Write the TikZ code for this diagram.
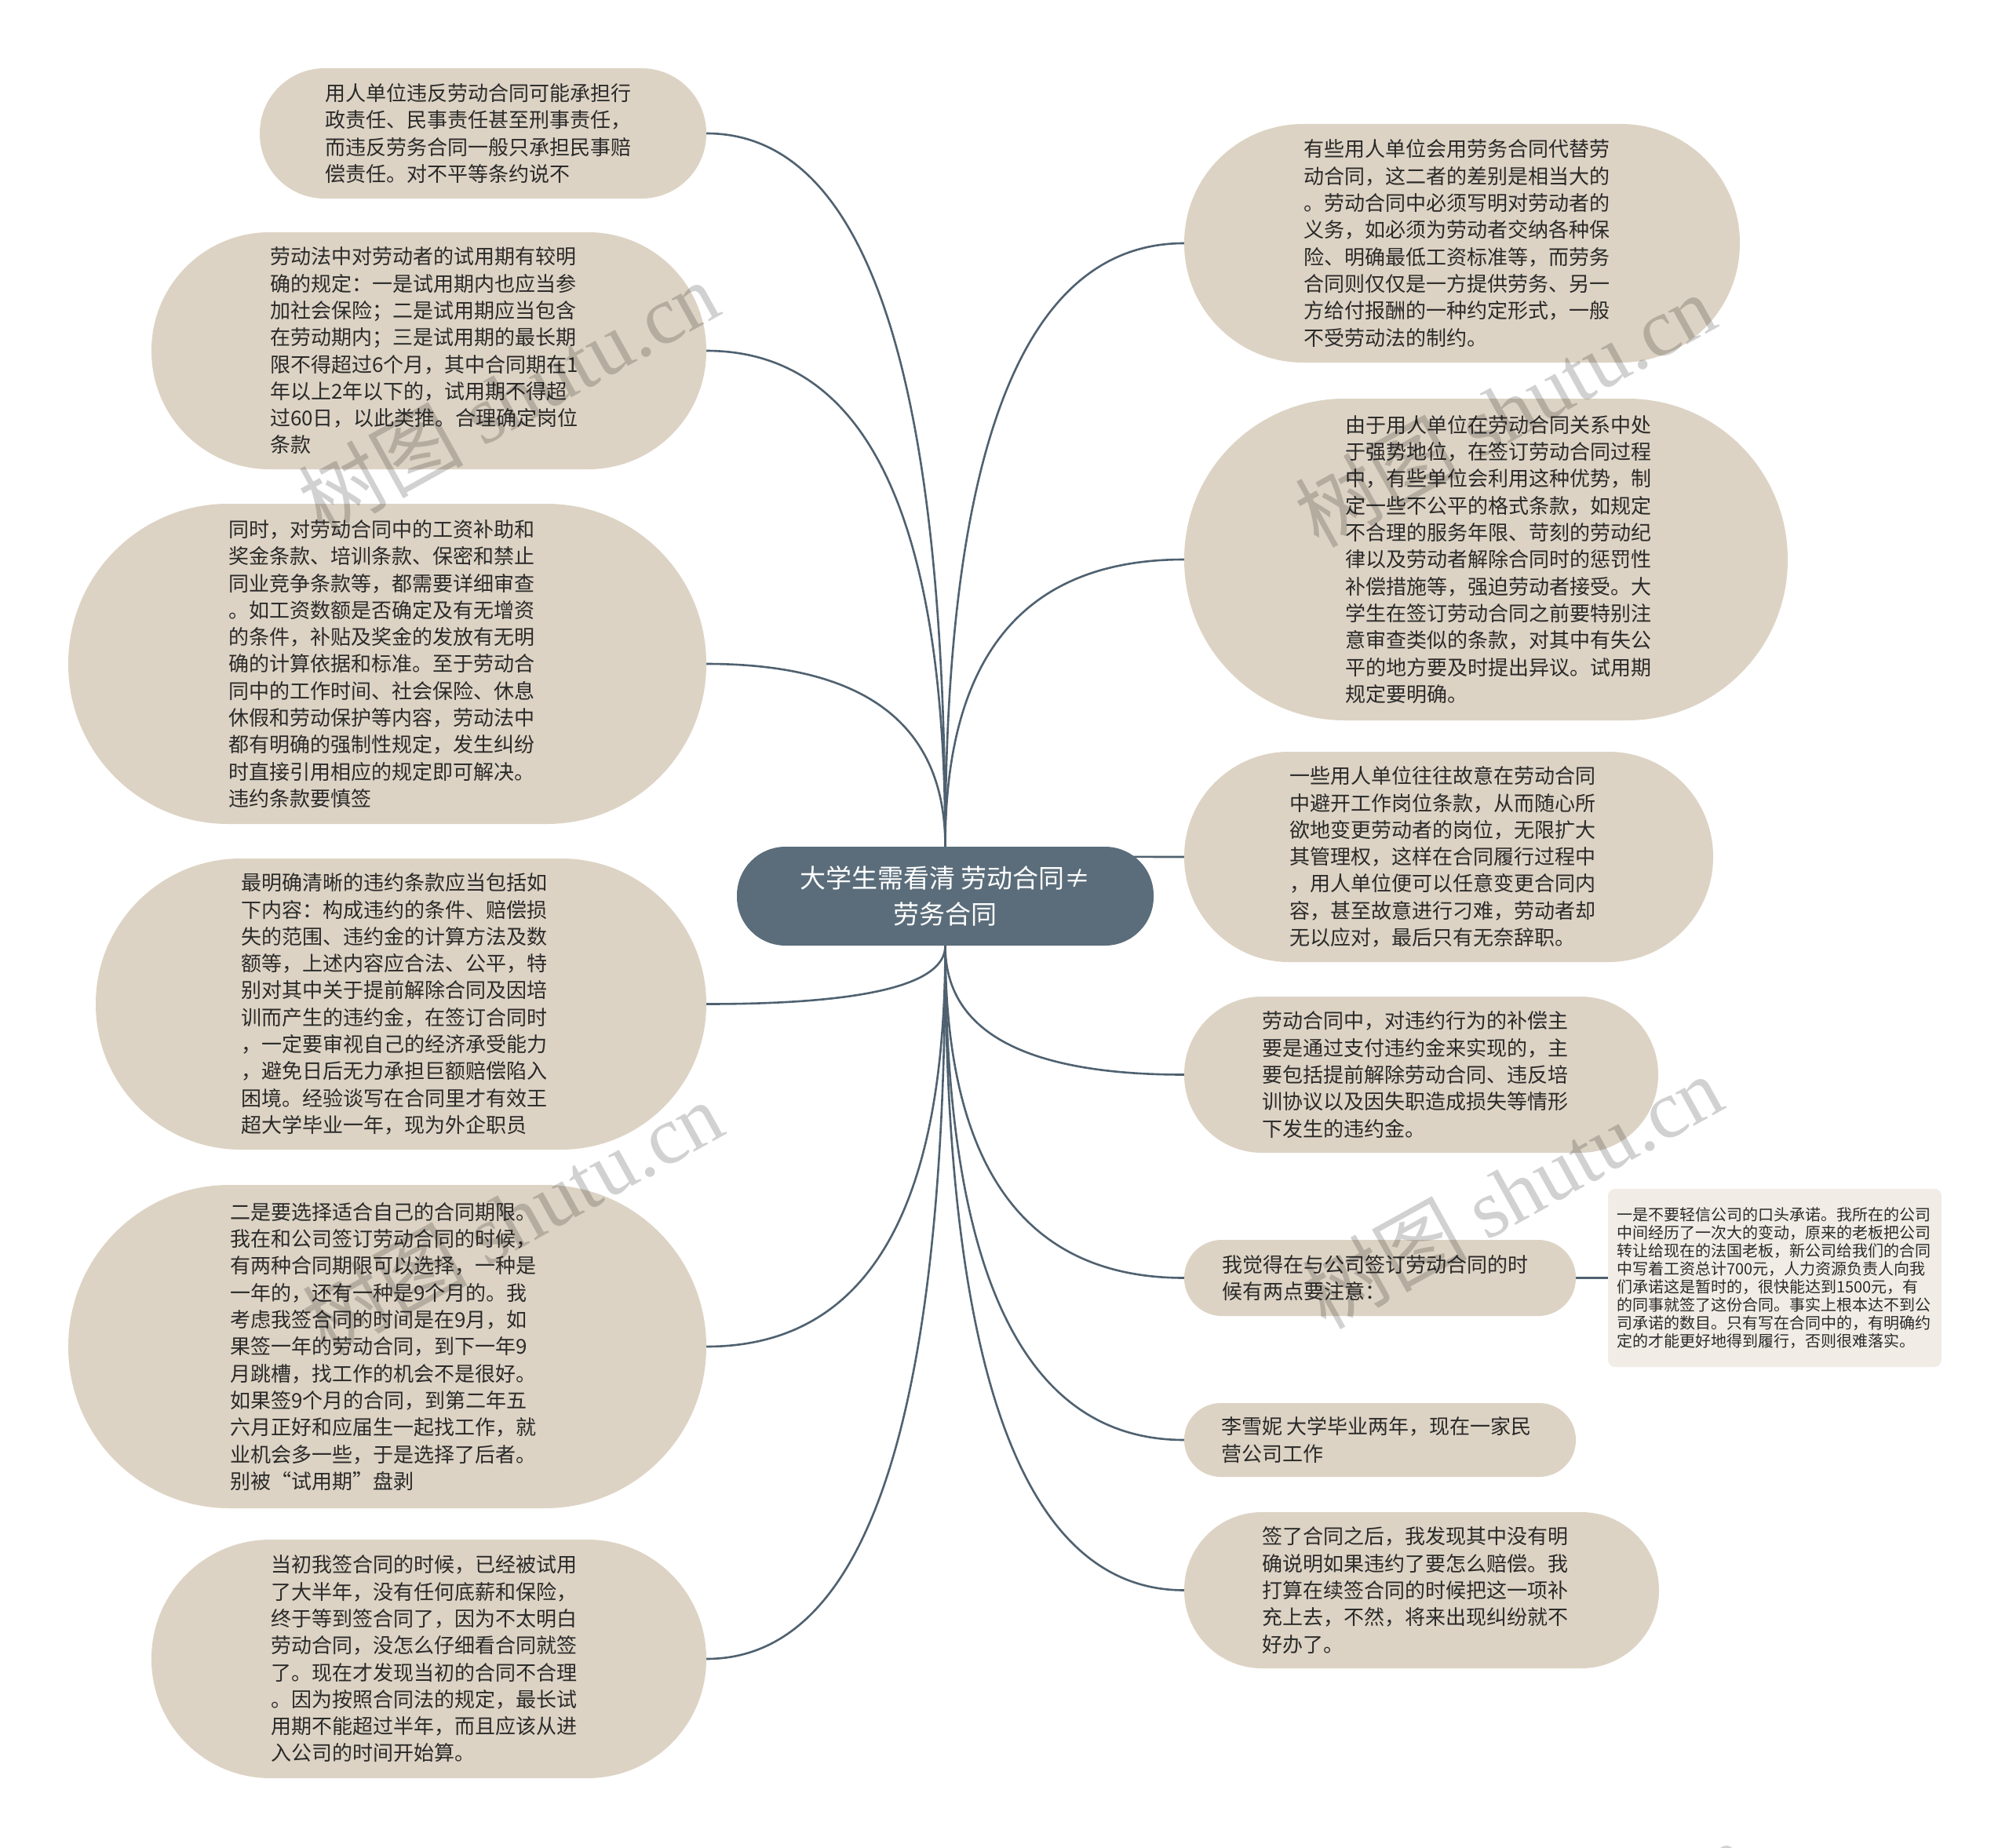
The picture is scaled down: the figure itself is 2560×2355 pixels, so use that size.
\documentclass[tikz,border=0pt]{standalone}
\usepackage{fontspec}
\setmainfont{Noto Sans CJK SC}
\newfontfamily\wmlatin{Liberation Serif}
\usetikzlibrary{calc,backgrounds}
\definecolor{leaffill}{HTML}{DDD3C4}
\definecolor{rootfill}{HTML}{5B6D7A}
\definecolor{linecol}{HTML}{4F6170}
\definecolor{txtcol}{HTML}{2A2A2A}
\definecolor{notefill}{HTML}{F1EDE6}
\tikzset{
  leafbox/.style={rectangle, fill=leaffill, inner sep=0pt, draw=none},
  leaftext/.style={inner sep=0pt, align=left, text=txtcol, font=\fontsize{26}{34.3}\selectfont, anchor=west},
  rootbox/.style={rectangle, fill=rootfill, rounded corners=62pt, minimum width=531pt, minimum height=126pt, inner sep=0pt, text=white, align=center, font=\fontsize{33}{46}\selectfont},
  notebox/.style={rectangle, fill=notefill, rounded corners=9pt, minimum width=425pt, minimum height=227pt, inner sep=0pt},
  notetext/.style={inner sep=0pt, align=left, text=txtcol, font=\fontsize{20}{22.9}\selectfont, anchor=west},
  connline/.style={draw=linecol, line width=2.6pt},
  wmark/.style={text=black, text opacity=0.18, font=\fontsize{105}{105}\selectfont, rotate=29, inner sep=0pt},
}
\newcommand\mmleaf[6]{%
  \pgfmathsetmacro\mmw{#4-#2}%
  \pgfmathsetmacro\mmh{#5-#3}%
  \pgfmathsetmacro\mmr{\mmh/2-0.5}%
  \pgfmathsetmacro\mmp{\mmh/2}%
  \node[leafbox, minimum width=\mmw pt, minimum height=\mmh pt, rounded corners=\mmr pt] (#1) at ({(#2+#4)/2},{(#3+#5)/2}) {};
  \node[leaftext] (#1t) at ([xshift=\mmp pt]#1.west) {#6};
}
\newcommand\mmconn[2]{\draw[connline] (#1) .. controls ($(#1)!0.667!(#1 |- #2)$) and ($(#2)!0.667!(#1 |- #2)$) .. (#2);}
\begin{document}
\begin{tikzpicture}[x=1pt,y=-1pt]
\useasboundingbox (0,0) rectangle (2560,2355);

\node[rootbox] (c) at (1204.5,1142) {大学生需看清 劳动合同≠\\劳务合同};

\mmleaf{l1}{331}{87}{900}{253}{用人单位违反劳动合同可能承担行\\政责任、民事责任甚至刑事责任，\\而违反劳务合同一般只承担民事赔\\偿责任。对不平等条约说不}
\mmleaf{l2}{193}{296}{900}{598}{劳动法中对劳动者的试用期有较明\\确的规定：一是试用期内也应当参\\加社会保险；二是试用期应当包含\\在劳动期内；三是试用期的最长期\\限不得超过6个月，其中合同期在1\\年以上2年以下的，试用期不得超\\过60日，以此类推。合理确定岗位\\条款}
\mmleaf{l3}{87}{642}{900}{1050}{同时，对劳动合同中的工资补助和\\奖金条款、培训条款、保密和禁止\\同业竞争条款等，都需要详细审查\\。如工资数额是否确定及有无增资\\的条件，补贴及奖金的发放有无明\\确的计算依据和标准。至于劳动合\\同中的工作时间、社会保险、休息\\休假和劳动保护等内容，劳动法中\\都有明确的强制性规定，发生纠纷\\时直接引用相应的规定即可解决。\\违约条款要慎签}
\mmleaf{l4}{122}{1094}{900}{1465}{最明确清晰的违约条款应当包括如\\下内容：构成违约的条件、赔偿损\\失的范围、违约金的计算方法及数\\额等，上述内容应合法、公平，特\\别对其中关于提前解除合同及因培\\训而产生的违约金，在签订合同时\\，一定要审视自己的经济承受能力\\，避免日后无力承担巨额赔偿陷入\\困境。经验谈写在合同里才有效王\\超大学毕业一年，现为外企职员}
\mmleaf{l5}{87}{1510}{900}{1922}{二是要选择适合自己的合同期限。\\我在和公司签订劳动合同的时候，\\有两种合同期限可以选择，一种是\\一年的，还有一种是9个月的。我\\考虑我签合同的时间是在9月，如\\果签一年的劳动合同，到下一年9\\月跳槽，找工作的机会不是很好。\\如果签9个月的合同，到第二年五\\六月正好和应届生一起找工作，就\\业机会多一些，于是选择了后者。\\别被“试用期”盘剥}
\mmleaf{l6}{193}{1962}{900}{2266}{当初我签合同的时候，已经被试用\\了大半年，没有任何底薪和保险，\\终于等到签合同了，因为不太明白\\劳动合同，没怎么仔细看合同就签\\了。现在才发现当初的合同不合理\\。因为按照合同法的规定，最长试\\用期不能超过半年，而且应该从进\\入公司的时间开始算。}

\mmleaf{r1}{1509}{158}{2217}{462}{有些用人单位会用劳务合同代替劳\\动合同，这二者的差别是相当大的\\。劳动合同中必须写明对劳动者的\\义务，如必须为劳动者交纳各种保\\险、明确最低工资标准等，而劳务\\合同则仅仅是一方提供劳务、另一\\方给付报酬的一种约定形式，一般\\不受劳动法的制约。}
\mmleaf{r2}{1509}{508}{2278}{918}{由于用人单位在劳动合同关系中处\\于强势地位，在签订劳动合同过程\\中，有些单位会利用这种优势，制\\定一些不公平的格式条款，如规定\\不合理的服务年限、苛刻的劳动纪\\律以及劳动者解除合同时的惩罚性\\补偿措施等，强迫劳动者接受。大\\学生在签订劳动合同之前要特别注\\意审查类似的条款，对其中有失公\\平的地方要及时提出异议。试用期\\规定要明确。}
\mmleaf{r3}{1509}{958}{2183}{1226}{一些用人单位往往故意在劳动合同\\中避开工作岗位条款，从而随心所\\欲地变更劳动者的岗位，无限扩大\\其管理权，这样在合同履行过程中\\，用人单位便可以任意变更合同内\\容，甚至故意进行刁难，劳动者却\\无以应对，最后只有无奈辞职。}
\mmleaf{r4}{1509}{1270}{2113}{1469}{劳动合同中，对违约行为的补偿主\\要是通过支付违约金来实现的，主\\要包括提前解除劳动合同、违反培\\训协议以及因失职造成损失等情形\\下发生的违约金。}
\mmleaf{r5}{1509}{1580}{2008}{1677}{我觉得在与公司签订劳动合同的时\\候有两点要注意：}
\mmleaf{r6}{1509}{1788}{2008}{1882}{李雪妮 大学毕业两年，现在一家民\\营公司工作}
\mmleaf{r7}{1509}{1927}{2114}{2126}{签了合同之后，我发现其中没有明\\确说明如果违约了要怎么赔偿。我\\打算在续签合同的时候把这一项补\\充上去，不然，将来出现纠纷就不\\好办了。}

\node[notebox] (sm) at (2261.5,1628.5) {};
\node[notetext] (smt) at ([xshift=11pt]sm.west) {一是不要轻信公司的口头承诺。我所在的公司\\中间经历了一次大的变动，原来的老板把公司\\转让给现在的法国老板，新公司给我们的合同\\中写着工资总计700元，人力资源负责人向我\\们承诺这是暂时的，很快能达到1500元，有\\的同事就签了这份合同。事实上根本达不到公\\司承诺的数目。只有写在合同中的，有明确约\\定的才能更好地得到履行，否则很难落实。};

\begin{pgfonlayer}{background}
\fill[white] (0,0) rectangle (2560,2355);
\mmconn{c.north}{l1.east}
\mmconn{c.north}{l2.east}
\mmconn{c.north}{l3.east}
\mmconn{c.south}{l4.east}
\mmconn{c.south}{l5.east}
\mmconn{c.south}{l6.east}
\mmconn{c.north}{r1.west}
\mmconn{c.north}{r2.west}
\mmconn{c.north}{r3.west}
\mmconn{c.south}{r4.west}
\mmconn{c.south}{r5.west}
\mmconn{c.south}{r6.west}
\mmconn{c.south}{r7.west}
\draw[connline] (r5.east) -- (sm.west);
\end{pgfonlayer}

\begin{scope}
\clip (0,0) rectangle (2560,2355);
\node[wmark] (w1) at (648,506) {树图 {\wmlatin shutu.cn}};
\node[wmark] (w2) at (1918,522) {树图 {\wmlatin shutu.cn}};
\node[wmark] (w3) at (653,1551) {树图 {\wmlatin shutu.cn}};
\node[wmark] (w4) at (1927,1518) {树图 {\wmlatin shutu.cn}};
\node[wmark] (w5) at (640,2505) {树图 {\wmlatin shutu.cn}};
\node[wmark] (w6) at (1960,2495) {树图 {\wmlatin shutu.cn}};
\end{scope}
\end{tikzpicture}
\end{document}
